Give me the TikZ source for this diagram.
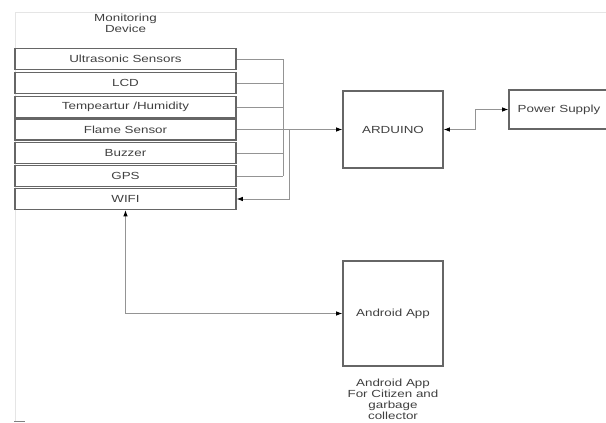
\documentclass[tikz,border=0pt]{standalone}
\usepackage{fontspec}
\setmainfont{Liberation Sans}
\usepackage{graphicx}
\usetikzlibrary{positioning,arrows.meta}

\newcommand{\wid}[1]{\scalebox{1.3}[1]{#1}}
\tikzset{
  txt/.style={font=\fontsize{10.3}{11}\selectfont,text=black!75},
  devbox/.style={txt,draw=black!60,line width=1.6pt,minimum width=221pt,minimum height=21pt,inner sep=0pt},
  bigbox/.style={txt,draw=black!60,line width=1.6pt,minimum width=100pt,inner sep=0pt},
  wire/.style={draw=black!42,line width=0.8pt},
  tip/.style={-{Latex[length=6pt,width=4.5pt,black]}},
  tips/.style={{Latex[length=6pt,width=4.5pt,black]}-{Latex[length=6pt,width=4.5pt,black]}}
}

\begin{document}
\begin{tikzpicture}[x=1pt,y=-1pt]
\useasboundingbox (0,0) rectangle (606,423);
% page edge
\draw[black!10,line width=0.8pt] (15,12)--(606,12);
\draw[black!10,line width=0.8pt] (15,12)--(15,421);
\draw[black!50,line width=1pt] (14,421)--(25,421);
% monitoring device
\node[txt,align=center,xscale=1.3] (title) at (125.5,23.5) {Monitoring\\Device};
\node[devbox] (sonic) at (125.5,59) {\wid{Ultrasonic Sensors}};
\node[devbox] (lcd) at (125.5,83) {\wid{LCD}};
\node[devbox] (temp) at (125.5,107) {\wid{Tempeartur /Humidity}};
\node[devbox] (flame) at (125.5,129.5) {\wid{Flame Sensor}};
\node[devbox] (buzz) at (125.5,153) {\wid{Buzzer}};
\node[devbox] (gps) at (125.5,176) {\wid{GPS}};
\node[devbox] (wifi) at (125.5,199) {\wid{WIFI}};
% controller, supply, app
\node[bigbox,minimum height=77pt] (ard) at (393,129.5) {\wid{ARDUINO}};
\node[bigbox,minimum height=39pt] (pwr) at (559,109.5) {\wid{Power Supply}};
\node[bigbox,minimum height=105pt] (app) at (393,313.5) {\wid{Android App}};
\node[txt,align=center,xscale=1.3,below=9pt of app] (applbl) {Android App\\For Citizen and\\garbage\\collector};
% bus
\coordinate (bustop) at (283,59);
\coordinate (busbot) at (283,176);
\coordinate (back) at (289,129.5);
\draw[wire] (sonic.east)--(sonic.east -| bustop);
\draw[wire] (lcd.east)--(lcd.east -| bustop);
\draw[wire] (temp.east)--(temp.east -| bustop);
\draw[wire] (buzz.east)--(buzz.east -| bustop);
\draw[wire] (gps.east)--(gps.east -| bustop);
\draw[wire] (bustop)--(busbot);
\draw[wire,tip] (flame.east)--(ard.west);
\draw[wire,tip] (back)--(back |- wifi.east)--(wifi.east);
\draw[wire,tips] (ard.east)--++(32,0) |- (pwr.west);
\draw[wire,tips] (wifi.south) |- (app.west);
\end{tikzpicture}
\end{document}
